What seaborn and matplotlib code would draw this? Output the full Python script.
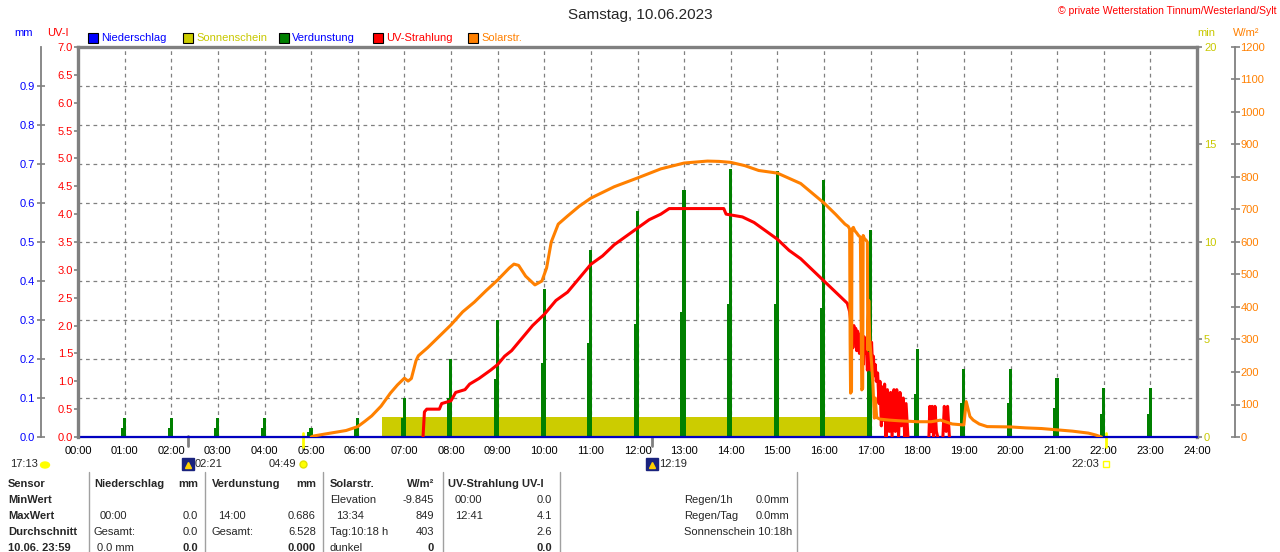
import matplotlib
matplotlib.use("Agg")
import matplotlib.pyplot as plt
import matplotlib.transforms as mtransforms
from matplotlib.patches import Rectangle, Ellipse
import seaborn as sns
import pandas as pd

W, H = 1280, 552

# ---------------- data ----------------
hours = list(range(25))
hour_labels = [f"{h:02d}:00" for h in hours]

mm_ticks = [0.0, 0.1, 0.2, 0.3, 0.4, 0.5, 0.6, 0.7, 0.8, 0.9]
uv_ticks = [0.0, 0.5, 1.0, 1.5, 2.0, 2.5, 3.0, 3.5, 4.0, 4.5, 5.0, 5.5, 6.0, 6.5, 7.0]
min_ticks = [0, 5, 10, 15, 20]
wm2_ticks = [0, 100, 200, 300, 400, 500, 600, 700, 800, 900, 1000, 1100, 1200]

# Niederschlag (mm) - nothing fell
precip_t = [0.0, 24.0]
precip_mm = [0.0, 0.0]

# Verdunstung (mm), hourly bars
evap_hours = list(range(1, 24))
evap_peak = [0.05, 0.05, 0.05, 0.05, 0.023, 0.05, 0.10, 0.20, 0.30, 0.38, 0.48, 0.58,
             0.633, 0.686, 0.683, 0.66, 0.53, 0.225, 0.175, 0.175, 0.152, 0.126, 0.126]
evap_base = [0.023, 0.023, 0.023, 0.023, 0.012, 0.025, 0.05, 0.10, 0.15, 0.19, 0.24, 0.29,
             0.32, 0.34, 0.34, 0.33, 0.27, 0.11, 0.087, 0.087, 0.074, 0.06, 0.06]

# Sonnenschein (min)
sun_start, sun_end, sun_minutes = 6.52, 16.97, 1.03

# Solarstrahlung (W/m2)
solar_t = [5.0, 5.05, 5.25, 5.5, 5.75, 6.0, 6.15, 6.3, 6.5, 6.7, 6.85, 7.0, 7.08, 7.15,
           7.25, 7.3, 7.5, 7.75, 8.0, 8.25, 8.5, 8.75, 9.0, 9.25, 9.35, 9.45, 9.6, 9.8,
           9.95, 10.05, 10.15, 10.3, 10.5, 10.75, 11.0, 11.5, 12.0, 12.5, 13.0, 13.5,
           13.75, 14.0, 14.3, 14.6, 15.0, 15.5, 16.0, 16.25, 16.45, 16.52, 16.55, 16.56,
           16.57, 16.59, 16.6, 16.63, 16.66, 16.7, 16.74, 16.78, 16.8, 16.81, 16.83,
           16.84, 16.87, 16.9, 16.93, 16.94, 16.96, 16.98, 17.02, 17.05, 17.08, 17.1,
           17.13, 17.2, 17.4, 17.6, 18.0, 18.3, 18.5, 18.75, 19.0, 19.05, 19.13, 19.2,
           19.33, 19.5, 20.0, 20.33, 20.67, 21.0, 21.33, 21.67, 21.83, 21.95]
solar_w = [0, 3, 8, 14, 20, 32, 48, 65, 95, 135, 160, 181, 172, 180,
           235, 250, 275, 310, 345, 385, 415, 450, 483, 520, 532, 528, 495, 468,
           480, 520, 600, 655, 680, 710, 735, 770, 797, 825, 843, 849,
           848, 845, 835, 820, 812, 780, 720, 685, 655, 648, 640, 300,
           135, 140, 640, 645, 635, 628, 620, 615, 300, 145, 150,
           620, 610, 606, 600, 268, 420, 300, 228, 160, 58, 120,
           60, 55, 52, 50, 47, 47, 52, 40, 37, 109, 63, 52,
           40, 32, 31, 28, 26, 22, 18, 12, 6, 0]

# UV-Strahlung (UV-I); seg splits the evening pieces
uv_t = [7.40, 7.43, 7.48, 7.75, 7.8, 8.0, 8.1, 8.3, 8.4, 8.6, 8.85, 9.0, 9.15, 9.3,
        9.5, 9.75, 10.0, 10.25, 10.5, 10.75, 11.0, 11.25, 11.5, 11.75, 12.0, 12.25,
        12.5, 12.68, 13.85, 13.9, 14.25, 14.5, 14.75, 15.0, 15.25, 15.5, 15.75, 16.0,
        16.25, 16.5, 16.55, 16.6, 16.62, 16.64, 16.66, 16.68, 16.7, 16.72, 16.74,
        16.76, 16.78, 16.8, 16.82, 16.84, 16.86, 16.88, 16.9, 16.93, 16.96, 17.0,
        17.02, 17.04, 17.06, 17.08, 17.1, 17.12, 17.15, 17.18, 17.2, 17.23, 17.26,
        17.28, 17.3, 17.33, 17.36, 17.4, 17.43, 17.46, 17.5, 17.53, 17.56, 17.6,
        17.63, 17.66, 17.7, 17.73, 17.76, 17.8,
        18.25, 18.27, 18.3, 18.32, 18.35, 18.38, 18.41, 18.44,
        18.55, 18.58, 18.62, 18.65, 18.69]
uv_i = [0.0, 0.45, 0.5, 0.5, 0.6, 0.65, 0.8, 0.85, 0.95, 1.05, 1.2, 1.3, 1.45, 1.55,
        1.75, 2.0, 2.2, 2.45, 2.6, 2.85, 3.1, 3.25, 3.45, 3.6, 3.75, 3.9,
        4.0, 4.1, 4.1, 4.0, 3.95, 3.85, 3.7, 3.55, 3.35, 3.2, 3.0, 2.8,
        2.6, 2.4, 2.25, 1.9, 1.6, 2.0, 1.7, 1.95, 1.55, 1.9, 1.8,
        1.5, 1.85, 1.6, 1.85, 1.3, 1.8, 1.5, 1.75, 1.2, 1.5, 1.2,
        1.7, 1.3, 1.45, 1.1, 1.3, 1.0, 1.15, 0.6, 1.0, 0.2, 0.9,
        0.3, 0.95, 0.0, 0.85, 0.1, 0.8, 0.0, 0.85, 0.1, 0.85, 0.0,
        0.8, 0.2, 0.7, 0.0, 0.6, 0.0,
        0.0, 0.55, 0.1, 0.55, 0.0, 0.55, 0.1, 0.0,
        0.0, 0.55, 0.1, 0.55, 0.0]
uv_seg = [0] * 88 + [1] * 8 + [2] * 5

# astro events shown under the time axis
moon_events = [(2.35, "02:21"), (12.317, "12:19")]
sun_events = [(4.817, "04:49"), (22.05, "22:03")]
moonset_prev = "17:13"

# ---------------- style ----------------
sns.set_style("white")
plt.rcParams['font.family'] = ['Liberation Sans', 'DejaVu Sans']
plt.rcParams['font.size'] = 8

C_BLUE = "#0000ff"
C_RED = "#ff0000"
C_ORANGE = "#ff8000"
C_GREEN = "#008000"
C_YELLOW = "#cccc00"
C_YTEXT = "#c8c800"
C_GREY = "#808080"


def fx(px):
    return px / W


def fy(py):
    return 1 - py / H


def px2pt(px):
    return px * 72 / 100


fig = plt.figure(figsize=(12.8, 5.52), dpi=100)
rect = [fx(78), fy(437), (1197 - 78) / W, 390 / H]

# mm axis with the grid
ax = fig.add_axes(rect)
ax.set_xlim(0, 24)
ax.set_ylim(0, 1.0)
ax.set_xticks(hours)
ax.set_xticklabels(hour_labels)
ax.set_yticks(mm_ticks)
ax.set_yticklabels([f"{v:.1f}" for v in mm_ticks])
ax.grid(True, ls=(0, (3, 3)), color=C_GREY, lw=0.9)
for s in ["top", "right"]:
    ax.spines[s].set_visible(False)
ax.spines["bottom"].set_color(C_GREY)
ax.spines["left"].set_position(("outward", px2pt(37)))
ax.spines["left"].set_color(C_GREY)
ax.spines["left"].set_linewidth(1.3)
ax.tick_params(axis="y", direction="inout", length=px2pt(8), width=1.2, color=C_GREY,
               labelcolor=C_BLUE, pad=px2pt(2), labelsize=8)
ax.tick_params(axis="x", length=0, pad=px2pt(9), labelsize=8, labelcolor="black")

# sunshine minutes
ax_min = ax.twinx()
ax_min.set_ylim(0, 20)
ax_min.bar(sun_start, sun_minutes, width=sun_end - sun_start, align="edge",
           color=C_YELLOW, linewidth=0)
ax_min.set_yticks(min_ticks)
ax_min.set_yticklabels([str(v) for v in min_ticks])
for s in ["left", "bottom"]:
    ax_min.spines[s].set_visible(False)
for s in ["right", "top"]:
    ax_min.spines[s].set_color(C_GREY)
    ax_min.spines[s].set_linewidth(2.4)
ax_min.tick_params(axis="y", direction="out", length=px2pt(5), width=1.2, color=C_GREY,
                   labelcolor=C_YTEXT, pad=px2pt(2), labelsize=8)

# evaporation bars + precipitation line on a hidden mm scale
ax_ev = ax.twinx()
ax_ev.set_ylim(0, 1.0)
ax_ev.axis("off")
ax_ev.bar([h - 0.08 for h in evap_hours], evap_base, width=0.10, align="edge",
          color=C_GREEN, linewidth=0)
ax_ev.bar([h - 0.035 for h in evap_hours], evap_peak, width=0.065, align="edge",
          color=C_GREEN, linewidth=0)
sns.lineplot(x=precip_t, y=precip_mm, ax=ax_ev, color="#0000c0", linewidth=1.6,
             estimator=None, clip_on=False)

# UV index
ax_uv = ax.twinx()
ax_uv.set_ylim(0, 7)
uv_df = pd.DataFrame({"t": uv_t, "uv": uv_i, "seg": uv_seg})
sns.lineplot(data=uv_df, x="t", y="uv", units="seg", estimator=None, sort=False,
             ax=ax_uv, color=C_RED, linewidth=2.2)
ax_uv.yaxis.tick_left()
ax_uv.yaxis.set_label_position("left")
ax_uv.set_yticks(uv_ticks)
ax_uv.set_yticklabels([f"{v:.1f}" for v in uv_ticks])
for s in ["right", "top", "bottom"]:
    ax_uv.spines[s].set_visible(False)
ax_uv.spines["left"].set_visible(True)
ax_uv.spines["left"].set_color(C_GREY)
ax_uv.spines["left"].set_linewidth(2.4)
ax_uv.tick_params(axis="y", direction="out", length=px2pt(4), width=1.2, color=C_GREY,
                  labelcolor=C_RED, pad=px2pt(1), labelsize=8)
ax_uv.set_ylabel("")

# solar radiation
ax_w = ax.twinx()
ax_w.set_ylim(0, 1200)
sns.lineplot(x=solar_t, y=solar_w, ax=ax_w, color=C_ORANGE, linewidth=2.2,
             estimator=None, sort=False)
ax_w.set_yticks(wm2_ticks)
ax_w.set_yticklabels([str(v) for v in wm2_ticks])
for s in ["left", "top", "bottom"]:
    ax_w.spines[s].set_visible(False)
ax_w.spines["right"].set_position(("outward", px2pt(38)))
ax_w.spines["right"].set_color(C_GREY)
ax_w.spines["right"].set_linewidth(1.3)
ax_w.tick_params(axis="y", direction="inout", length=px2pt(9), width=1.2, color=C_GREY,
                 labelcolor=C_ORANGE, pad=px2pt(1), labelsize=8)
ax_w.set_ylabel("")

for a in (ax_min, ax_ev, ax_uv, ax_w):
    a.set_xlim(0, 24)

# astro markers below the time axis
trans = mtransforms.blended_transform_factory(ax.transData, fig.transFigure)
for t, lab in moon_events:
    ax.plot([t, t], [fy(436), fy(446)], transform=trans, color=C_GREY, lw=2, clip_on=False)
    ax.plot(t, fy(464), transform=trans, marker="s", ms=8, color="#1a237e", clip_on=False)
    ax.plot(t, fy(465), transform=trans, marker="^", ms=4, color="#ffd000", clip_on=False)
    ax.annotate(lab, xy=(t, fy(464)), xycoords=trans, xytext=(5, 0),
                textcoords="offset points", ha="left", va="center", fontsize=8)
for i, (t, lab) in enumerate(sun_events):
    ax.plot([t, t], [fy(433), fy(447)], transform=trans, color="#ffff00", lw=2, clip_on=False)
    if i == 0:
        ax.plot(t, fy(464), transform=trans, marker="o", ms=5, color="#ffff00",
                markeredgecolor="#e0e000", clip_on=False)
    else:
        ax.plot(t, fy(464), transform=trans, marker="s", ms=5, markerfacecolor="none",
                markeredgecolor="#ffff00", clip_on=False)
    ax.annotate(lab, xy=(t, fy(464)), xycoords=trans, xytext=(-5, 0),
                textcoords="offset points", ha="right", va="center", fontsize=8)
fig.text(fx(10), fy(464), moonset_prev, ha="left", va="center", fontsize=8)
fig.add_artist(Ellipse((fx(45), fy(465)), 9 / W, 6 / H, color="#ffff00",
                       transform=fig.transFigure))

# titles and axis headers
fig.text(0.5, fy(15), "Samstag, 10.06.2023", ha="center", va="center", fontsize=11)
fig.text(fx(1276), fy(11), "© private Wetterstation Tinnum/Westerland/Sylt", ha="right",
         va="center", fontsize=7.5, color=C_RED)
fig.text(fx(14), fy(33), "mm", ha="left", va="center", color=C_BLUE, fontsize=8)
fig.text(fx(47), fy(33), "UV-I", ha="left", va="center", color=C_RED, fontsize=8)
fig.text(fx(1197), fy(33), "min", ha="left", va="center", color=C_YTEXT, fontsize=8)
fig.text(fx(1233), fy(33), "W/m²", ha="left", va="center", color=C_ORANGE, fontsize=8)

# legend
legend_items = [
    (88, "Niederschlag", C_BLUE, C_BLUE),
    (183, "Sonnenschein", C_YELLOW, C_YTEXT),
    (279, "Verdunstung", C_GREEN, C_BLUE),
    (373, "UV-Strahlung", C_RED, C_RED),
    (468, "Solarstr.", C_ORANGE, C_ORANGE),
]
for x0, lab, fc, tc in legend_items:
    fig.add_artist(Rectangle((fx(x0), fy(43)), 10 / W, 10 / H, facecolor=fc,
                             edgecolor="black", lw=0.8, transform=fig.transFigure))
    fig.text(fx(x0 + 13), fy(38), lab, ha="left", va="center", color=tc, fontsize=8)

# statistics table
rows_y = [484, 500, 516, 532, 548]
table = [
    (8, 0, "Sensor", "left", "bold"), (94, 0, "Niederschlag", "left", "bold"),
    (198, 0, "mm", "right", "bold"), (212, 0, "Verdunstung", "left", "bold"),
    (316, 0, "mm", "right", "bold"), (330, 0, "Solarstr.", "left", "bold"),
    (434, 0, "W/m²", "right", "bold"), (448, 0, "UV-Strahlung UV-I", "left", "bold"),
    (8, 1, "MinWert", "left", "bold"), (330, 1, "Elevation", "left", "normal"),
    (434, 1, "-9.845", "right", "normal"), (455, 1, "00:00", "left", "normal"),
    (552, 1, "0.0", "right", "normal"), (684, 1, "Regen/1h", "left", "normal"),
    (789, 1, "0.0mm", "right", "normal"),
    (8, 2, "MaxWert", "left", "bold"), (100, 2, "00:00", "left", "normal"),
    (198, 2, "0.0", "right", "normal"), (218, 2, "14:00", "left", "normal"),
    (316, 2, "0.686", "right", "normal"), (336, 2, "13:34", "left", "normal"),
    (434, 2, "849", "right", "normal"), (455, 2, "12:41", "left", "normal"),
    (552, 2, "4.1", "right", "normal"), (684, 2, "Regen/Tag", "left", "normal"),
    (789, 2, "0.0mm", "right", "normal"),
    (8, 3, "Durchschnitt", "left", "bold"), (94, 3, "Gesamt:", "left", "normal"),
    (198, 3, "0.0", "right", "normal"), (212, 3, "Gesamt:", "left", "normal"),
    (316, 3, "6.528", "right", "normal"), (330, 3, "Tag:10:18 h", "left", "normal"),
    (434, 3, "403", "right", "normal"), (552, 3, "2.6", "right", "normal"),
    (684, 3, "Sonnenschein 10:18h", "left", "normal"),
    (8, 4, "10.06. 23:59", "left", "bold"), (97, 4, "0.0 mm", "left", "normal"),
    (198, 4, "0.0", "right", "bold"), (316, 4, "0.000", "right", "bold"),
    (330, 4, "dunkel", "left", "normal"), (434, 4, "0", "right", "bold"),
    (552, 4, "0.0", "right", "bold"),
]
for x0, r, txt, ha, wt in table:
    fig.text(fx(x0), fy(rows_y[r]), txt, ha=ha, va="center", fontsize=8, fontweight=wt)
for xs in [89, 205, 323, 443, 560, 797]:
    fig.add_artist(plt.Line2D([fx(xs), fx(xs)], [fy(472), 0], color="#a0a0a0", lw=1,
                              transform=fig.transFigure))

fig.savefig("out.png", dpi=100)
